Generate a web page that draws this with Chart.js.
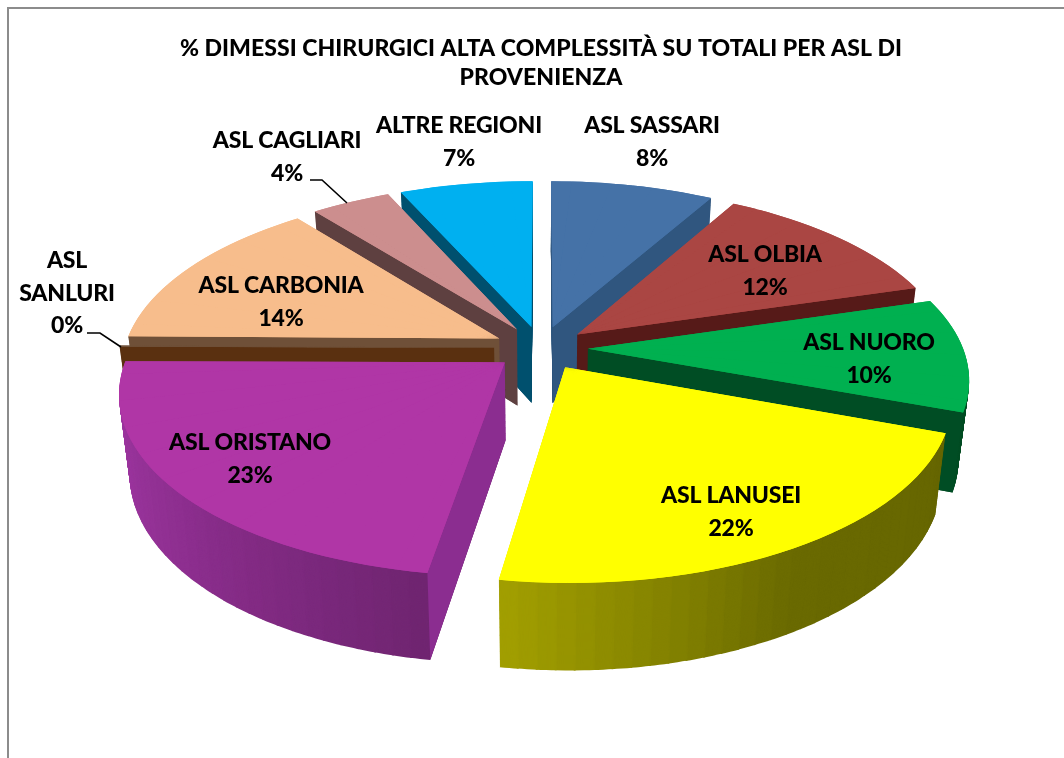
<!DOCTYPE html>
<html>
<head>
<meta charset="utf-8">
<script src="https://cdn.jsdelivr.net/npm/chart.js@4"></script>
<style>
html,body{margin:0;padding:0;background:#fff;overflow:hidden}
#frame{position:absolute;left:7px;top:7px;width:1100px;height:800px;border-left:2px solid #8c8c8c;border-top:2px solid #8c8c8c}
#c{position:absolute;left:0;top:0;display:block}
</style>
</head>
<body>
<div id="frame"></div>
<canvas id="c" width="1064" height="758"></canvas>
<script>
const categories = ['ASL SASSARI','ASL OLBIA','ASL NUORO','ASL LANUSEI','ASL ORISTANO','ASL SANLURI','ASL CARBONIA','ASL CAGLIARI','ALTRE REGIONI'];
const values = [8.2,12.2,10.2,21.9,22.6,0.1,14.1,4.0,6.7];
const titleLines = ['% DIMESSI CHIRURGICI ALTA COMPLESSITÀ SU TOTALI PER ASL DI','PROVENIENZA'];

const topColors = ['#4572a7','#aa4643','#00b050','#ffff00','#b036a6','#6f5038','#f7bd8c','#cc8e8e','#00b0f0'];
const rimColors = [
  ['#30567f','#30567f','#30567f'],['#561a18','#561a18','#561a18'],['#004d24','#004d24','#004d24'],
  ['#666600','#6a6a00','#a3a000'],['#6f2570','#8e2f90','#a53aa8'],['#5a3010','#5a3010','#5a3010'],
  ['#6f5038','#6f5038','#6f5038'],['#5e4040','#5e4040','#5e4040'],['#00506e','#00506e','#00506e']];
const cutColors = ['#30567f','#561a18','#004d24','#666600','#8b2d90','#5a3010','#6f5038','#5e4040','#00506e'];

// camera for the tilted, exploded pie
const cam = {cx:541,cy:348,f:375,g:175,p:0.158,depth:77,shrink:0.025,explode:0.125};
const labelLayout = [[652,126],[765,255],[869,343],[731,496],[250,443],[67,261],[281,286],[287,141],[459,126]];
const labelWrap = {5:['ASL','SANLURI']};
const leaderLines = {5:[[87,333],[100,333],[121,347]],7:[[310,180],[322,180],[347,203]]};
const labelFont = '900 23px Lato';
const labelSpacing = '-0.2px';
const titleSpacing = '0.05px';
const lineGap = 32.5;

function project(a,rho,mid,t){
  const X=rho*Math.cos(a)+cam.explode*Math.cos(mid), Y=rho*Math.sin(a)+cam.explode*Math.sin(mid);
  const s=1-cam.shrink*t, w=1-cam.p*Y;
  return [cam.cx+cam.f*X*s/w, cam.cy+(cam.g*Y*s+cam.depth*t)/w];
}
function hex(c){return [1,3,5].map(i=>parseInt(c.substr(i,2),16));}
function mix3(st,u){
  const k=u<.5?0:1, v=u<.5?u*2:(u-.5)*2, a=hex(st[k]), b=hex(st[k+1]);
  return 'rgb('+a.map((x,i)=>Math.round(x+(b[i]-x)*v)).join(',')+')';
}
function drawWedge(ctx,arc,a1,a2,mid,t,color){
  const {x,y,outerRadius:R}=arc;
  const T0=project(a1,0,mid,t),T1=project(a1,1,mid,t),T2=project(a2,1,mid,t);
  const u1=[R*Math.cos(a1),R*Math.sin(a1)],u2=[R*Math.cos(a2),R*Math.sin(a2)];
  const det=u1[0]*u2[1]-u1[1]*u2[0];
  const d1=[T1[0]-T0[0],T1[1]-T0[1]],d2=[T2[0]-T0[0],T2[1]-T0[1]];
  const m11=(d1[0]*u2[1]-d2[0]*u1[1])/det, m12=(d2[0]*u1[0]-d1[0]*u2[0])/det;
  const m21=(d1[1]*u2[1]-d2[1]*u1[1])/det, m22=(d2[1]*u1[0]-d1[1]*u2[0])/det;
  const e=T0[0]-m11*x-m12*y, f=T0[1]-m21*x-m22*y;
  const s={start:arc.startAngle,end:arc.endAngle,opt:arc.options};
  arc.startAngle=a1;arc.endAngle=a2;
  arc.options=Object.create(s.opt);arc.options.backgroundColor=color;
  ctx.save();ctx.transform(m11,m21,m12,m22,e,f);arc.draw(ctx);ctx.restore();
  arc.startAngle=s.start;arc.endAngle=s.end;arc.options=s.opt;
}
function cross(a,b){return a[0]*b[1]-a[1]*b[0];}
function drawCut(ctx,a,mid,i){
  const A=project(a,0,mid,0),P=project(a,1,mid,0),A2=project(a,0,mid,1),P2=project(a,1,mid,1),M=project(mid,1,mid,0);
  const edge=[P[0]-A[0],P[1]-A[1]];
  if(cross(edge,[0,1])*cross(edge,[M[0]-A[0],M[1]-A[1]])>=0) return;
  ctx.fillStyle=cutColors[i];
  ctx.beginPath();[A,P,P2,A2].forEach((p,k)=>k?ctx.lineTo(p[0],p[1]):ctx.moveTo(p[0],p[1]));ctx.closePath();ctx.fill();
}
const pie3d={
  id:'pie3d',
  beforeDraw(chart){ chart.ctx.letterSpacing=titleSpacing; },
  beforeDatasetsDraw(chart){
    const ctx=chart.ctx, arcs=chart.getDatasetMeta(0).data;
    const order=arcs.map((arc,i)=>({arc,i,mid:(arc.startAngle+arc.endAngle)/2}))
      .sort((p,q)=>Math.sin(p.mid)-Math.sin(q.mid));
    const step=2.5*Math.PI/180, lap=0.25*Math.PI/180, layers=90;
    order.forEach(({arc,i,mid})=>{
      const a1=arc.startAngle,a2=arc.endAngle,n=Math.ceil((a2-a1)/step),d=(a2-a1)/n;
      for(let l=layers;l>=1;l--){
        const t=l/layers;
        for(let k=0;k<n;k++){
          const s=a1+k*d,e=s+d;
          drawWedge(ctx,arc,s,Math.min(a2,e+lap),mid,t,mix3(rimColors[i],(k+.5)/n));
        }
      }
      drawCut(ctx,a1,mid,i);
      drawCut(ctx,a2,mid,i);
      // two passes with staggered seams so the flat top stays solid
      const m=Math.max(1,Math.ceil((a2-a1)/(9*Math.PI/180))),g=(a2-a1)/m;
      for(let pass=0;pass<2;pass++){
        const shift=pass*g/2;
        for(let k=-pass;k<m;k++){
          const s=Math.max(a1,a1+k*g+shift),e=Math.min(a2,a1+(k+1)*g+shift);
          if(e>s) drawWedge(ctx,arc,s,e,mid,0,topColors[i]);
        }
      }
    });
    return false;
  },
  afterDraw(chart){
    const ctx=chart.ctx;
    ctx.save();
    ctx.strokeStyle='#000';ctx.lineWidth=1.6;
    Object.values(leaderLines).forEach(pts=>{
      ctx.beginPath();pts.forEach((p,k)=>k?ctx.lineTo(p[0],p[1]):ctx.moveTo(p[0],p[1]));ctx.stroke();
    });
    ctx.fillStyle='#000';ctx.font=labelFont;ctx.letterSpacing=labelSpacing;ctx.textAlign='center';ctx.textBaseline='middle';
    categories.forEach((c,i)=>{
      const lines=(labelWrap[i]||[c]).concat([Math.round(values[i])+'%']);
      lines.forEach((s,k)=>ctx.fillText(s,labelLayout[i][0],labelLayout[i][1]+k*lineGap));
    });
    ctx.restore();
  }
};
new Chart(document.getElementById('c'),{
  type:'pie',
  data:{labels:categories,datasets:[{data:values,backgroundColor:topColors,borderWidth:0,offset:0}]},
  plugins:[pie3d],
  options:{
    responsive:false,animation:false,
    layout:{padding:{left:18,top:0}},
    plugins:{
      legend:{display:false},tooltip:{enabled:false},
      title:{display:true,text:titleLines,color:'#000',font:{family:'Lato',weight:'900',size:23,lineHeight:1.26},padding:{top:34,bottom:10}}
    }
  }
});
</script>
</body>
</html>
